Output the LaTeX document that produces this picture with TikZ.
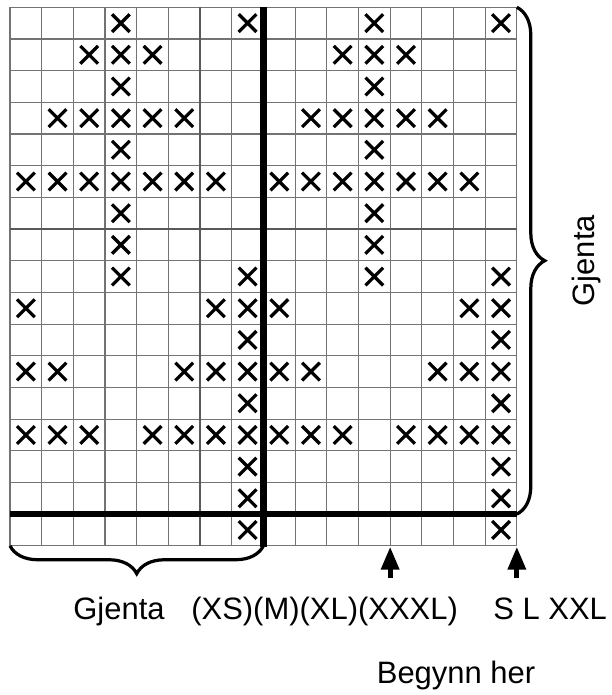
\documentclass[tikz,border=0pt]{standalone}
\usepackage{fontspec}
\setmainfont{Liberation Sans}
\usetikzlibrary{arrows.meta,decorations.pathreplacing}

\begin{document}
\begin{tikzpicture}[x=1cm,y=-1cm,
    gridline/.style={draw=black!55,line width=1pt},
    midline/.style={draw=black!65,line width=2.4pt},
    mainline/.style={draw=black,line width=6pt},
    stitch/.style={draw=black,line width=2.9pt},
    repbrace/.style={decorate,decoration={brace,amplitude=0.88cm},line width=2.9pt},
    startarrow/.style={-{Triangle[length=0.72cm,width=0.55cm]},line width=4.5pt},
    lbl/.style={inner sep=0pt,anchor=base,font=\fontsize{27.8}{33}\selectfont}]
    % --- 1. Define Core Parameters ---
    \def\cols{16}
    \def\rows{17}
    \def\xs{0.28}

    \useasboundingbox (-0.316,-0.23) rectangle (19.0,21.71);

    % --- 2. Define Coordinates ---
    \coordinate (TL) at (0,0);
    \coordinate (TR) at (\cols,0);
    \coordinate (BL) at (0,\rows);
    \coordinate (BR) at (\cols,\rows);
    \coordinate (Mid) at (8,\rows);
    \coordinate (Rep) at (\cols,16);

    % Arrow ends
    \coordinate (TailA) at (12,18.01);
    \coordinate (TipA) at (12,17.03);
    \coordinate (TailB) at (\cols,18.01);
    \coordinate (TipB) at (\cols,17.03);

    % --- 3. Draw the Chart ---
    \draw[gridline] (TL) grid (BR);
    \draw[midline] (0,7) -- (\cols,7);
    \draw[midline] (6,0) -- (6,\rows);
    \draw[mainline] (0,16) -- (Rep);
    \draw[mainline] (8,0) -- (8,\rows+0.05);

    % --- 4. Stitches (same for both halves) ---
    \foreach \h in {0,8}{
      \foreach \r/\stitches in {1/{4,8},2/{3,4,5},3/{4},4/{2,3,4,5,6},5/{4},
          6/{1,2,3,4,5,6,7},7/{4},8/{4},9/{4,8},10/{1,7,8},11/{8},
          12/{1,2,6,7,8},13/{8},14/{1,2,3,5,6,7,8},15/{8},16/{8},17/{8}}{
        \foreach \c in \stitches{
          \draw[stitch] (\h+\c-0.5-\xs,\r-0.5-\xs) -- ++(2*\xs,2*\xs)
                        (\h+\c-0.5-\xs,\r-0.5+\xs) -- ++(2*\xs,-2*\xs);
        }
      }
    }

    % --- 5. Braces and Labels ---
    \draw[repbrace] (TR) -- (Rep);
    \draw[repbrace] (Mid) -- (BL);

    \node[lbl,rotate=90] (gjentaR) at (18.45,8) {Gjenta};
    \node[lbl] (gjentaB) at (3.44,19.34) {Gjenta};
    \node[lbl] (sizesA) at (9.93,19.34) {(XS)(M)(XL)(XXXL)};
    \node[lbl] (sizesB) at (17.05,19.34) {S L XXL};
    \node[lbl] (start) at (14.08,21.36) {Begynn her};

    % --- 6. Start Arrows ---
    \draw[startarrow] (TailA) -- (TipA);
    \draw[startarrow] (TailB) -- (TipB);
\end{tikzpicture}
\end{document}
